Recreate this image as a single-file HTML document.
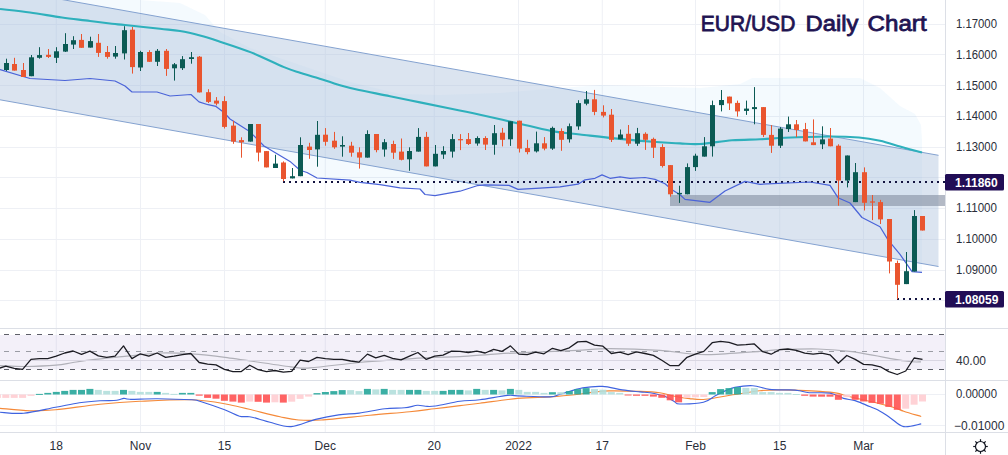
<!DOCTYPE html><html><head><meta charset="utf-8"><style>html,body{margin:0;padding:0;background:#fff;overflow:hidden}svg{display:block}text{font-family:"Liberation Sans",sans-serif}</style></head><body>
<svg width="1008" height="455" viewBox="0 0 1008 455" shape-rendering="auto">
<rect width="1008" height="455" fill="#ffffff"/>
<line x1="56.25" y1="0" x2="56.25" y2="432" stroke="#eef0f5" stroke-width="1"/>
<line x1="140.50" y1="0" x2="140.50" y2="432" stroke="#eef0f5" stroke-width="1"/>
<line x1="224.50" y1="0" x2="224.50" y2="432" stroke="#eef0f5" stroke-width="1"/>
<line x1="325.25" y1="0" x2="325.25" y2="432" stroke="#eef0f5" stroke-width="1"/>
<line x1="434.25" y1="0" x2="434.25" y2="432" stroke="#eef0f5" stroke-width="1"/>
<line x1="518.50" y1="0" x2="518.50" y2="432" stroke="#eef0f5" stroke-width="1"/>
<line x1="602.25" y1="0" x2="602.25" y2="432" stroke="#eef0f5" stroke-width="1"/>
<line x1="695.50" y1="0" x2="695.50" y2="432" stroke="#eef0f5" stroke-width="1"/>
<line x1="779.75" y1="0" x2="779.75" y2="432" stroke="#eef0f5" stroke-width="1"/>
<line x1="863.50" y1="0" x2="863.50" y2="432" stroke="#eef0f5" stroke-width="1"/>
<line x1="0" y1="24.5" x2="945" y2="24.5" stroke="#eef0f5" stroke-width="1"/>
<line x1="0" y1="54.5" x2="945" y2="54.5" stroke="#eef0f5" stroke-width="1"/>
<line x1="0" y1="85.5" x2="945" y2="85.5" stroke="#eef0f5" stroke-width="1"/>
<line x1="0" y1="116.5" x2="945" y2="116.5" stroke="#eef0f5" stroke-width="1"/>
<line x1="0" y1="147.5" x2="945" y2="147.5" stroke="#eef0f5" stroke-width="1"/>
<line x1="0" y1="177.5" x2="945" y2="177.5" stroke="#eef0f5" stroke-width="1"/>
<line x1="0" y1="208.5" x2="945" y2="208.5" stroke="#eef0f5" stroke-width="1"/>
<line x1="0" y1="239.5" x2="945" y2="239.5" stroke="#eef0f5" stroke-width="1"/>
<line x1="0" y1="270.5" x2="945" y2="270.5" stroke="#eef0f5" stroke-width="1"/>
<line x1="0" y1="300.5" x2="945" y2="300.5" stroke="#eef0f5" stroke-width="1"/>
<line x1="0" y1="394.5" x2="945" y2="394.5" stroke="#eef0f5"/>
<line x1="0" y1="425.5" x2="945" y2="425.5" stroke="#eef0f5"/>
<polygon points="0.0,-10.0 95.0,-3.0 140.0,0.0 180.0,3.0 205.0,15.0 220.0,32.0 250.0,48.0 300.0,65.0 350.0,82.0 400.0,94.0 440.0,95.0 500.0,93.0 560.0,88.0 600.0,85.0 700.0,88.0 740.0,84.0 752.0,78.0 860.0,78.0 880.0,88.0 900.0,106.0 915.0,114.0 921.0,125.0 922.0,140.0 922.0,272.4 912.0,271.6 900.0,254.4 888.0,239.9 880.0,226.7 862.0,217.5 850.0,203.0 838.0,197.7 830.0,185.3 810.0,182.0 760.0,184.3 745.0,181.4 725.0,191.0 710.0,202.3 685.0,199.4 680.0,194.7 672.0,189.8 665.0,183.8 655.0,179.4 645.0,177.5 630.0,178.3 620.0,176.9 610.0,178.3 602.0,174.9 595.0,178.3 585.0,179.8 578.0,184.2 560.0,186.8 540.0,188.2 518.0,189.4 509.0,185.4 485.0,184.8 477.0,185.7 460.0,191.2 435.0,195.6 425.0,194.5 420.0,189.0 400.0,187.9 380.0,184.6 360.0,182.4 350.0,180.2 317.0,178.0 307.0,172.5 300.0,170.2 290.0,161.4 264.0,146.0 250.0,131.8 230.0,119.0 224.0,112.5 216.0,106.4 208.0,104.7 199.0,101.9 191.0,94.5 170.0,96.0 157.0,92.0 132.0,92.0 125.0,86.0 115.0,81.0 90.0,78.5 65.0,80.5 30.0,78.5 0.0,69.5" fill="#2196f3" fill-opacity="0.05"/>
<polygon points="0,-11.5 938.5,155.3 938.5,266.5 0,99.8" fill="#a9bfdc" fill-opacity="0.42"/>
<line x1="0" y1="-11.5" x2="938.5" y2="155.3" stroke="#84a2d0" stroke-width="1"/>
<line x1="0" y1="99.8" x2="938.5" y2="266.5" stroke="#84a2d0" stroke-width="1"/>
<rect x="670" y="195" width="275" height="11" fill="#8a93a6" fill-opacity="0.65"/>
<line x1="283" y1="182" x2="945" y2="182" stroke="#131340" stroke-width="2" stroke-dasharray="2 4"/>
<line x1="897" y1="299" x2="945" y2="299" stroke="#131340" stroke-width="2" stroke-dasharray="2 4"/>
<path d="M0.0,9.0 C5.0,9.6 19.7,11.1 30.0,12.5 C40.3,13.9 52.0,16.1 62.0,17.5 C72.0,18.9 81.7,19.9 90.0,21.0 C98.3,22.1 106.2,23.1 112.0,23.8 C117.8,24.5 117.0,24.2 125.0,25.0 C133.0,25.8 150.8,27.8 160.0,28.8 C169.2,29.8 173.3,29.9 180.0,31.0 C186.7,32.1 193.7,33.8 200.0,35.5 C206.3,37.2 209.5,38.2 218.0,41.0 C226.5,43.8 240.0,48.0 251.0,52.4 C262.0,56.8 275.8,63.7 284.0,67.1 C292.2,70.5 294.7,71.0 300.0,72.7 C305.3,74.4 309.3,75.4 316.0,77.5 C322.7,79.6 332.8,83.2 340.0,85.3 C347.2,87.4 350.7,88.2 359.0,90.0 C367.3,91.8 379.8,94.1 390.0,96.2 C400.2,98.3 410.0,100.4 420.0,102.4 C430.0,104.5 440.0,106.5 450.0,108.5 C460.0,110.5 467.5,112.0 480.0,114.7 C492.5,117.5 512.5,122.2 525.0,125.0 C537.5,127.8 545.8,130.0 555.0,131.6 C564.2,133.2 569.2,133.3 580.0,134.5 C590.8,135.7 606.7,137.6 620.0,138.9 C633.3,140.2 650.0,141.6 660.0,142.3 C670.0,143.1 673.3,143.1 680.0,143.4 C686.7,143.7 691.3,144.5 700.0,144.0 C708.7,143.5 722.0,141.1 732.0,140.3 C742.0,139.5 751.2,139.7 760.0,139.3 C768.8,138.9 773.8,138.3 785.0,137.8 C796.2,137.3 814.7,136.6 827.0,136.5 C839.3,136.4 850.2,136.8 859.0,137.5 C867.8,138.2 873.2,139.3 880.0,140.8 C886.8,142.3 893.0,144.5 900.0,146.5 C907.0,148.5 918.3,151.6 922.0,152.6" fill="none" stroke="#2eb0bc" stroke-width="2.1" stroke-linejoin="round"/>
<polyline points="0.0,69.5 30.0,78.5 65.0,80.5 90.0,78.5 115.0,81.0 125.0,86.0 132.0,92.0 157.0,92.0 170.0,96.0 191.0,94.5 199.0,101.9 208.0,104.7 216.0,106.4 224.0,112.5 230.0,119.0 250.0,131.8 264.0,146.0 290.0,161.4 300.0,170.2 307.0,172.5 317.0,178.0 350.0,180.2 360.0,182.4 380.0,184.6 400.0,187.9 420.0,189.0 425.0,194.5 435.0,195.6 460.0,191.2 477.0,185.7 485.0,184.8 509.0,185.4 518.0,189.4 540.0,188.2 560.0,186.8 578.0,184.2 585.0,179.8 595.0,178.3 602.0,174.9 610.0,178.3 620.0,176.9 630.0,178.3 645.0,177.5 655.0,179.4 665.0,183.8 672.0,189.8 680.0,194.7 685.0,199.4 710.0,202.3 725.0,191.0 745.0,181.4 760.0,184.3 810.0,182.0 830.0,185.3 838.0,197.7 850.0,203.0 862.0,217.5 880.0,226.7 888.0,239.9 900.0,254.4 912.0,271.6 922.0,272.4" fill="none" stroke="#4a63d8" stroke-width="1.2" stroke-linejoin="round"/>
<line x1="6.5" y1="58.7" x2="6.5" y2="71.0" stroke="#0b5a54" stroke-width="1"/>
<rect x="4.0" y="63.0" width="5" height="7.0" fill="#0b5a54"/>
<line x1="14.5" y1="57.8" x2="14.5" y2="70.6" stroke="#e9552f" stroke-width="1"/>
<rect x="12.0" y="64.0" width="5" height="6.6" fill="#e9552f"/>
<line x1="23.5" y1="63.0" x2="23.5" y2="77.0" stroke="#e9552f" stroke-width="1"/>
<rect x="21.0" y="70.0" width="5" height="7.0" fill="#e9552f"/>
<line x1="31.5" y1="55.0" x2="31.5" y2="76.2" stroke="#0b5a54" stroke-width="1"/>
<rect x="29.0" y="57.3" width="5" height="18.9" fill="#0b5a54"/>
<line x1="39.5" y1="47.2" x2="39.5" y2="58.7" stroke="#0b5a54" stroke-width="1"/>
<rect x="37.0" y="55.1" width="5" height="2.7" fill="#0b5a54"/>
<line x1="48.5" y1="49.0" x2="48.5" y2="58.0" stroke="#e9552f" stroke-width="1"/>
<rect x="46.0" y="54.8" width="5" height="2.1" fill="#e9552f"/>
<line x1="56.5" y1="47.2" x2="56.5" y2="63.0" stroke="#0b5a54" stroke-width="1"/>
<rect x="54.0" y="51.3" width="5" height="6.5" fill="#0b5a54"/>
<line x1="65.5" y1="33.2" x2="65.5" y2="52.0" stroke="#0b5a54" stroke-width="1"/>
<rect x="63.0" y="44.0" width="5" height="7.6" fill="#0b5a54"/>
<line x1="73.5" y1="36.2" x2="73.5" y2="49.0" stroke="#0b5a54" stroke-width="1"/>
<rect x="71.0" y="40.2" width="5" height="4.4" fill="#0b5a54"/>
<line x1="81.5" y1="34.0" x2="81.5" y2="47.8" stroke="#e9552f" stroke-width="1"/>
<rect x="79.0" y="39.9" width="5" height="7.9" fill="#e9552f"/>
<line x1="90.5" y1="36.7" x2="90.5" y2="47.6" stroke="#0b5a54" stroke-width="1"/>
<rect x="88.0" y="41.1" width="5" height="6.5" fill="#0b5a54"/>
<line x1="98.5" y1="34.0" x2="98.5" y2="56.9" stroke="#e9552f" stroke-width="1"/>
<rect x="96.0" y="42.8" width="5" height="10.1" fill="#e9552f"/>
<line x1="107.5" y1="46.0" x2="107.5" y2="58.7" stroke="#e9552f" stroke-width="1"/>
<rect x="105.0" y="52.0" width="5" height="4.9" fill="#e9552f"/>
<line x1="115.5" y1="46.0" x2="115.5" y2="58.7" stroke="#0b5a54" stroke-width="1"/>
<rect x="113.0" y="53.0" width="5" height="3.6" fill="#0b5a54"/>
<line x1="124.5" y1="26.2" x2="124.5" y2="59.5" stroke="#0b5a54" stroke-width="1"/>
<rect x="122.0" y="30.2" width="5" height="23.2" fill="#0b5a54"/>
<line x1="132.5" y1="27.0" x2="132.5" y2="73.6" stroke="#e9552f" stroke-width="1"/>
<rect x="130.0" y="29.7" width="5" height="37.4" fill="#e9552f"/>
<line x1="140.5" y1="50.8" x2="140.5" y2="71.0" stroke="#0b5a54" stroke-width="1"/>
<rect x="138.0" y="52.0" width="5" height="15.5" fill="#0b5a54"/>
<line x1="149.5" y1="50.2" x2="149.5" y2="62.0" stroke="#e9552f" stroke-width="1"/>
<rect x="147.0" y="52.0" width="5" height="9.8" fill="#e9552f"/>
<line x1="157.5" y1="49.0" x2="157.5" y2="66.0" stroke="#0b5a54" stroke-width="1"/>
<rect x="155.0" y="50.8" width="5" height="11.0" fill="#0b5a54"/>
<line x1="166.5" y1="49.0" x2="166.5" y2="75.9" stroke="#e9552f" stroke-width="1"/>
<rect x="164.0" y="50.8" width="5" height="18.1" fill="#e9552f"/>
<line x1="174.5" y1="63.0" x2="174.5" y2="80.6" stroke="#0b5a54" stroke-width="1"/>
<rect x="172.0" y="64.3" width="5" height="4.0" fill="#0b5a54"/>
<line x1="182.5" y1="56.1" x2="182.5" y2="70.0" stroke="#0b5a54" stroke-width="1"/>
<rect x="180.0" y="59.2" width="5" height="9.0" fill="#0b5a54"/>
<line x1="191.5" y1="52.0" x2="191.5" y2="63.7" stroke="#0b5a54" stroke-width="1"/>
<rect x="189.0" y="57.2" width="5" height="1.8" fill="#0b5a54"/>
<line x1="199.5" y1="56.0" x2="199.5" y2="92.5" stroke="#e9552f" stroke-width="1"/>
<rect x="197.0" y="56.7" width="5" height="35.7" fill="#e9552f"/>
<line x1="208.5" y1="89.2" x2="208.5" y2="103.0" stroke="#e9552f" stroke-width="1"/>
<rect x="206.0" y="92.2" width="5" height="9.7" fill="#e9552f"/>
<line x1="216.5" y1="97.1" x2="216.5" y2="105.4" stroke="#e9552f" stroke-width="1"/>
<rect x="214.0" y="100.6" width="5" height="3.0" fill="#e9552f"/>
<line x1="224.5" y1="96.2" x2="224.5" y2="128.5" stroke="#e9552f" stroke-width="1"/>
<rect x="222.0" y="101.1" width="5" height="25.8" fill="#e9552f"/>
<line x1="233.5" y1="120.8" x2="233.5" y2="143.8" stroke="#e9552f" stroke-width="1"/>
<rect x="231.0" y="125.6" width="5" height="16.0" fill="#e9552f"/>
<line x1="241.5" y1="137.3" x2="241.5" y2="157.7" stroke="#e9552f" stroke-width="1"/>
<rect x="239.0" y="140.1" width="5" height="2.2" fill="#e9552f"/>
<line x1="250.5" y1="124.0" x2="250.5" y2="141.6" stroke="#0b5a54" stroke-width="1"/>
<rect x="248.0" y="124.0" width="5" height="17.6" fill="#0b5a54"/>
<line x1="258.5" y1="124.0" x2="258.5" y2="161.4" stroke="#e9552f" stroke-width="1"/>
<rect x="256.0" y="124.0" width="5" height="28.6" fill="#e9552f"/>
<line x1="266.5" y1="151.0" x2="266.5" y2="167.4" stroke="#e9552f" stroke-width="1"/>
<rect x="264.0" y="151.1" width="5" height="16.3" fill="#e9552f"/>
<line x1="275.5" y1="154.8" x2="275.5" y2="168.0" stroke="#0b5a54" stroke-width="1"/>
<rect x="273.0" y="163.6" width="5" height="4.4" fill="#0b5a54"/>
<line x1="283.5" y1="161.4" x2="283.5" y2="181.2" stroke="#e9552f" stroke-width="1"/>
<rect x="281.0" y="162.5" width="5" height="16.5" fill="#e9552f"/>
<line x1="292.5" y1="168.0" x2="292.5" y2="178.4" stroke="#0b5a54" stroke-width="1"/>
<rect x="290.0" y="176.2" width="5" height="2.2" fill="#0b5a54"/>
<line x1="300.5" y1="137.3" x2="300.5" y2="176.2" stroke="#0b5a54" stroke-width="1"/>
<rect x="298.0" y="145.0" width="5" height="31.2" fill="#0b5a54"/>
<line x1="309.5" y1="142.8" x2="309.5" y2="158.8" stroke="#e9552f" stroke-width="1"/>
<rect x="307.0" y="146.6" width="5" height="3.4" fill="#e9552f"/>
<line x1="317.5" y1="121.0" x2="317.5" y2="166.7" stroke="#0b5a54" stroke-width="1"/>
<rect x="315.0" y="134.8" width="5" height="14.6" fill="#0b5a54"/>
<line x1="325.5" y1="128.1" x2="325.5" y2="145.7" stroke="#e9552f" stroke-width="1"/>
<rect x="323.0" y="134.7" width="5" height="7.1" fill="#e9552f"/>
<line x1="334.5" y1="131.9" x2="334.5" y2="148.8" stroke="#e9552f" stroke-width="1"/>
<rect x="332.0" y="140.7" width="5" height="6.6" fill="#e9552f"/>
<line x1="342.5" y1="136.3" x2="342.5" y2="156.7" stroke="#0b5a54" stroke-width="1"/>
<rect x="340.0" y="145.0" width="5" height="1.6" fill="#0b5a54"/>
<line x1="351.5" y1="141.8" x2="351.5" y2="156.7" stroke="#e9552f" stroke-width="1"/>
<rect x="349.0" y="145.7" width="5" height="7.0" fill="#e9552f"/>
<line x1="359.5" y1="147.3" x2="359.5" y2="168.6" stroke="#e9552f" stroke-width="1"/>
<rect x="357.0" y="152.3" width="5" height="5.3" fill="#e9552f"/>
<line x1="367.5" y1="130.3" x2="367.5" y2="157.6" stroke="#0b5a54" stroke-width="1"/>
<rect x="365.0" y="134.0" width="5" height="23.6" fill="#0b5a54"/>
<line x1="376.5" y1="134.0" x2="376.5" y2="152.3" stroke="#e9552f" stroke-width="1"/>
<rect x="374.0" y="134.0" width="5" height="16.1" fill="#e9552f"/>
<line x1="384.5" y1="139.1" x2="384.5" y2="156.7" stroke="#0b5a54" stroke-width="1"/>
<rect x="382.0" y="142.2" width="5" height="7.3" fill="#0b5a54"/>
<line x1="393.5" y1="140.7" x2="393.5" y2="158.9" stroke="#e9552f" stroke-width="1"/>
<rect x="391.0" y="144.0" width="5" height="8.7" fill="#e9552f"/>
<line x1="401.5" y1="138.5" x2="401.5" y2="160.4" stroke="#e9552f" stroke-width="1"/>
<rect x="399.0" y="151.6" width="5" height="8.2" fill="#e9552f"/>
<line x1="409.5" y1="147.3" x2="409.5" y2="170.8" stroke="#0b5a54" stroke-width="1"/>
<rect x="407.0" y="151.0" width="5" height="8.3" fill="#0b5a54"/>
<line x1="418.5" y1="128.1" x2="418.5" y2="151.6" stroke="#0b5a54" stroke-width="1"/>
<rect x="416.0" y="136.9" width="5" height="14.7" fill="#0b5a54"/>
<line x1="426.5" y1="131.9" x2="426.5" y2="166.4" stroke="#e9552f" stroke-width="1"/>
<rect x="424.0" y="136.9" width="5" height="29.5" fill="#e9552f"/>
<line x1="435.5" y1="145.0" x2="435.5" y2="166.4" stroke="#0b5a54" stroke-width="1"/>
<rect x="433.0" y="153.8" width="5" height="12.6" fill="#0b5a54"/>
<line x1="443.5" y1="146.2" x2="443.5" y2="158.9" stroke="#0b5a54" stroke-width="1"/>
<rect x="441.0" y="151.0" width="5" height="3.5" fill="#0b5a54"/>
<line x1="452.5" y1="134.1" x2="452.5" y2="157.6" stroke="#0b5a54" stroke-width="1"/>
<rect x="450.0" y="139.1" width="5" height="12.5" fill="#0b5a54"/>
<line x1="460.5" y1="134.1" x2="460.5" y2="150.1" stroke="#e9552f" stroke-width="1"/>
<rect x="458.0" y="139.1" width="5" height="1.2" fill="#e9552f"/>
<line x1="468.5" y1="133.0" x2="468.5" y2="145.0" stroke="#e9552f" stroke-width="1"/>
<rect x="466.0" y="139.1" width="5" height="4.9" fill="#e9552f"/>
<line x1="477.5" y1="136.3" x2="477.5" y2="145.7" stroke="#0b5a54" stroke-width="1"/>
<rect x="475.0" y="138.0" width="5" height="5.5" fill="#0b5a54"/>
<line x1="485.5" y1="136.2" x2="485.5" y2="150.0" stroke="#e9552f" stroke-width="1"/>
<rect x="483.0" y="138.0" width="5" height="6.6" fill="#e9552f"/>
<line x1="494.5" y1="125.0" x2="494.5" y2="154.7" stroke="#0b5a54" stroke-width="1"/>
<rect x="492.0" y="133.2" width="5" height="11.6" fill="#0b5a54"/>
<line x1="502.5" y1="127.9" x2="502.5" y2="146.4" stroke="#e9552f" stroke-width="1"/>
<rect x="500.0" y="132.7" width="5" height="7.1" fill="#e9552f"/>
<line x1="510.5" y1="121.3" x2="510.5" y2="145.9" stroke="#0b5a54" stroke-width="1"/>
<rect x="508.0" y="121.3" width="5" height="18.0" fill="#0b5a54"/>
<line x1="519.5" y1="120.7" x2="519.5" y2="152.5" stroke="#e9552f" stroke-width="1"/>
<rect x="517.0" y="120.7" width="5" height="27.9" fill="#e9552f"/>
<line x1="527.5" y1="139.8" x2="527.5" y2="154.3" stroke="#e9552f" stroke-width="1"/>
<rect x="525.0" y="148.1" width="5" height="4.0" fill="#e9552f"/>
<line x1="536.5" y1="131.6" x2="536.5" y2="152.5" stroke="#0b5a54" stroke-width="1"/>
<rect x="534.0" y="143.3" width="5" height="8.1" fill="#0b5a54"/>
<line x1="544.5" y1="137.1" x2="544.5" y2="150.3" stroke="#e9552f" stroke-width="1"/>
<rect x="542.0" y="143.3" width="5" height="5.3" fill="#e9552f"/>
<line x1="552.5" y1="126.6" x2="552.5" y2="149.9" stroke="#0b5a54" stroke-width="1"/>
<rect x="550.0" y="127.9" width="5" height="20.7" fill="#0b5a54"/>
<line x1="561.5" y1="128.4" x2="561.5" y2="150.8" stroke="#e9552f" stroke-width="1"/>
<rect x="559.0" y="131.0" width="5" height="8.8" fill="#e9552f"/>
<line x1="569.5" y1="123.5" x2="569.5" y2="142.6" stroke="#0b5a54" stroke-width="1"/>
<rect x="567.0" y="126.2" width="5" height="13.1" fill="#0b5a54"/>
<line x1="578.5" y1="100.2" x2="578.5" y2="129.8" stroke="#0b5a54" stroke-width="1"/>
<rect x="576.0" y="103.1" width="5" height="23.3" fill="#0b5a54"/>
<line x1="586.5" y1="91.0" x2="586.5" y2="105.3" stroke="#0b5a54" stroke-width="1"/>
<rect x="584.0" y="99.3" width="5" height="4.4" fill="#0b5a54"/>
<line x1="594.5" y1="89.9" x2="594.5" y2="115.2" stroke="#e9552f" stroke-width="1"/>
<rect x="592.0" y="99.3" width="5" height="12.6" fill="#e9552f"/>
<line x1="603.5" y1="105.3" x2="603.5" y2="117.4" stroke="#e9552f" stroke-width="1"/>
<rect x="601.0" y="111.9" width="5" height="3.7" fill="#e9552f"/>
<line x1="611.5" y1="109.0" x2="611.5" y2="142.0" stroke="#e9552f" stroke-width="1"/>
<rect x="609.0" y="114.7" width="5" height="25.1" fill="#e9552f"/>
<line x1="620.5" y1="129.5" x2="620.5" y2="139.3" stroke="#0b5a54" stroke-width="1"/>
<rect x="618.0" y="134.5" width="5" height="4.8" fill="#0b5a54"/>
<line x1="628.5" y1="125.0" x2="628.5" y2="145.9" stroke="#e9552f" stroke-width="1"/>
<rect x="626.0" y="133.8" width="5" height="9.9" fill="#e9552f"/>
<line x1="637.5" y1="127.9" x2="637.5" y2="145.9" stroke="#0b5a54" stroke-width="1"/>
<rect x="635.0" y="133.2" width="5" height="10.5" fill="#0b5a54"/>
<line x1="645.5" y1="132.3" x2="645.5" y2="149.9" stroke="#e9552f" stroke-width="1"/>
<rect x="643.0" y="133.8" width="5" height="6.0" fill="#e9552f"/>
<line x1="653.5" y1="137.6" x2="653.5" y2="158.0" stroke="#e9552f" stroke-width="1"/>
<rect x="651.0" y="138.9" width="5" height="8.8" fill="#e9552f"/>
<line x1="662.5" y1="144.2" x2="662.5" y2="167.5" stroke="#e9552f" stroke-width="1"/>
<rect x="660.0" y="147.0" width="5" height="19.0" fill="#e9552f"/>
<line x1="670.5" y1="165.1" x2="670.5" y2="196.6" stroke="#e9552f" stroke-width="1"/>
<rect x="668.0" y="165.1" width="5" height="29.2" fill="#e9552f"/>
<line x1="679.5" y1="185.7" x2="679.5" y2="202.9" stroke="#0b5a54" stroke-width="1"/>
<rect x="677.0" y="192.9" width="5" height="1.4" fill="#0b5a54"/>
<line x1="687.5" y1="163.4" x2="687.5" y2="194.3" stroke="#0b5a54" stroke-width="1"/>
<rect x="685.0" y="167.1" width="5" height="27.2" fill="#0b5a54"/>
<line x1="695.5" y1="153.7" x2="695.5" y2="170.9" stroke="#0b5a54" stroke-width="1"/>
<rect x="693.0" y="155.7" width="5" height="11.4" fill="#0b5a54"/>
<line x1="704.5" y1="137.1" x2="704.5" y2="156.6" stroke="#0b5a54" stroke-width="1"/>
<rect x="702.0" y="146.3" width="5" height="10.3" fill="#0b5a54"/>
<line x1="712.5" y1="100.6" x2="712.5" y2="156.6" stroke="#0b5a54" stroke-width="1"/>
<rect x="710.0" y="105.1" width="5" height="41.2" fill="#0b5a54"/>
<line x1="721.5" y1="90.0" x2="721.5" y2="111.4" stroke="#0b5a54" stroke-width="1"/>
<rect x="719.0" y="100.0" width="5" height="5.1" fill="#0b5a54"/>
<line x1="729.5" y1="96.6" x2="729.5" y2="110.0" stroke="#e9552f" stroke-width="1"/>
<rect x="727.0" y="96.6" width="5" height="6.8" fill="#e9552f"/>
<line x1="737.5" y1="100.6" x2="737.5" y2="116.6" stroke="#e9552f" stroke-width="1"/>
<rect x="735.0" y="102.9" width="5" height="8.5" fill="#e9552f"/>
<line x1="746.5" y1="100.6" x2="746.5" y2="114.9" stroke="#0b5a54" stroke-width="1"/>
<rect x="744.0" y="108.6" width="5" height="2.3" fill="#0b5a54"/>
<line x1="754.5" y1="87.1" x2="754.5" y2="124.3" stroke="#0b5a54" stroke-width="1"/>
<rect x="752.0" y="107.1" width="5" height="2.0" fill="#0b5a54"/>
<line x1="763.5" y1="107.1" x2="763.5" y2="137.1" stroke="#e9552f" stroke-width="1"/>
<rect x="761.0" y="107.1" width="5" height="27.8" fill="#e9552f"/>
<line x1="771.5" y1="125.1" x2="771.5" y2="152.9" stroke="#e9552f" stroke-width="1"/>
<rect x="769.0" y="134.9" width="5" height="10.8" fill="#e9552f"/>
<line x1="780.5" y1="127.1" x2="780.5" y2="148.0" stroke="#0b5a54" stroke-width="1"/>
<rect x="778.0" y="128.6" width="5" height="17.1" fill="#0b5a54"/>
<line x1="788.5" y1="116.6" x2="788.5" y2="132.0" stroke="#0b5a54" stroke-width="1"/>
<rect x="786.0" y="124.3" width="5" height="4.8" fill="#0b5a54"/>
<line x1="796.5" y1="120.0" x2="796.5" y2="137.1" stroke="#e9552f" stroke-width="1"/>
<rect x="794.0" y="124.3" width="5" height="5.7" fill="#e9552f"/>
<line x1="805.5" y1="122.9" x2="805.5" y2="141.4" stroke="#e9552f" stroke-width="1"/>
<rect x="803.0" y="129.1" width="5" height="12.3" fill="#e9552f"/>
<line x1="813.5" y1="119.4" x2="813.5" y2="145.1" stroke="#e9552f" stroke-width="1"/>
<rect x="811.0" y="142.3" width="5" height="2.8" fill="#e9552f"/>
<line x1="822.5" y1="126.3" x2="822.5" y2="149.1" stroke="#0b5a54" stroke-width="1"/>
<rect x="820.0" y="139.4" width="5" height="4.9" fill="#0b5a54"/>
<line x1="830.5" y1="128.0" x2="830.5" y2="146.3" stroke="#e9552f" stroke-width="1"/>
<rect x="828.0" y="138.6" width="5" height="7.7" fill="#e9552f"/>
<line x1="838.5" y1="144.3" x2="838.5" y2="205.7" stroke="#e9552f" stroke-width="1"/>
<rect x="836.0" y="145.7" width="5" height="34.8" fill="#e9552f"/>
<line x1="847.5" y1="155.5" x2="847.5" y2="187.4" stroke="#0b5a54" stroke-width="1"/>
<rect x="845.0" y="155.5" width="5" height="25.0" fill="#0b5a54"/>
<line x1="855.5" y1="163.0" x2="855.5" y2="202.1" stroke="#0b5a54" stroke-width="1"/>
<rect x="853.0" y="172.2" width="5" height="29.9" fill="#0b5a54"/>
<line x1="864.5" y1="167.4" x2="864.5" y2="210.5" stroke="#e9552f" stroke-width="1"/>
<rect x="862.0" y="172.2" width="5" height="30.6" fill="#e9552f"/>
<line x1="872.5" y1="195.0" x2="872.5" y2="220.1" stroke="#e9552f" stroke-width="1"/>
<rect x="870.0" y="201.4" width="5" height="1.2" fill="#e9552f"/>
<line x1="880.5" y1="199.9" x2="880.5" y2="224.0" stroke="#e9552f" stroke-width="1"/>
<rect x="878.0" y="202.1" width="5" height="17.3" fill="#e9552f"/>
<line x1="889.5" y1="219.0" x2="889.5" y2="273.4" stroke="#e9552f" stroke-width="1"/>
<rect x="887.0" y="219.0" width="5" height="42.5" fill="#e9552f"/>
<line x1="897.5" y1="260.6" x2="897.5" y2="299.2" stroke="#e9552f" stroke-width="1"/>
<rect x="895.0" y="263.0" width="5" height="21.8" fill="#e9552f"/>
<line x1="906.5" y1="252.0" x2="906.5" y2="284.1" stroke="#0b5a54" stroke-width="1"/>
<rect x="904.0" y="271.2" width="5" height="12.9" fill="#0b5a54"/>
<line x1="914.5" y1="210.1" x2="914.5" y2="271.5" stroke="#0b5a54" stroke-width="1"/>
<rect x="912.0" y="216.0" width="5" height="55.5" fill="#0b5a54"/>
<line x1="922.5" y1="216.0" x2="922.5" y2="230.5" stroke="#e9552f" stroke-width="1"/>
<rect x="920.0" y="216.0" width="5" height="14.5" fill="#e9552f"/>
<text x="700.8" y="31" font-size="22" textLength="94.5" lengthAdjust="spacingAndGlyphs" stroke="#1f1452" stroke-width="0.8" fill="#1f1452">EUR/USD</text>
<text x="805.6" y="31" font-size="22" textLength="52.8" lengthAdjust="spacingAndGlyphs" stroke="#1f1452" stroke-width="0.8" fill="#1f1452">Daily</text>
<text x="867.6" y="31" font-size="22" textLength="59.0" lengthAdjust="spacingAndGlyphs" stroke="#1f1452" stroke-width="0.8" fill="#1f1452">Chart</text>
<rect x="0" y="335" width="945" height="34.5" fill="#7e57c2" fill-opacity="0.09"/>
<line x1="0" y1="334.5" x2="945" y2="334.5" stroke="#5d5f68" stroke-width="1" stroke-dasharray="5 6" stroke-dashoffset="7"/>
<line x1="0" y1="351.5" x2="945" y2="351.5" stroke="#9a9ca4" stroke-width="1" stroke-dasharray="5 6" stroke-dashoffset="7"/>
<line x1="0" y1="369.5" x2="945" y2="369.5" stroke="#5d5f68" stroke-width="1" stroke-dasharray="5 6" stroke-dashoffset="7"/>
<path d="M0.0,365.7 C4.2,365.8 15.7,366.6 25.0,366.5 C34.3,366.4 48.0,365.9 56.0,365.2 C64.0,364.5 66.5,363.5 73.0,362.5 C79.5,361.5 86.0,360.4 95.0,359.4 C104.0,358.3 116.2,357.3 127.0,356.2 C137.8,355.1 149.3,353.4 160.0,353.0 C170.7,352.6 180.2,353.1 191.0,353.8 C201.8,354.5 208.3,355.1 225.0,357.3 C241.7,359.5 276.8,365.1 291.0,366.8 C305.2,368.6 298.7,368.5 310.0,367.8 C321.3,367.1 344.0,363.9 359.0,362.5 C374.0,361.1 387.7,360.3 400.0,359.4 C412.3,358.5 423.0,357.8 433.0,357.3 C443.0,356.9 449.2,357.3 460.0,356.7 C470.8,356.1 485.7,354.6 498.0,353.8 C510.3,353.1 520.8,352.8 534.0,352.2 C547.2,351.6 564.3,350.9 577.0,350.3 C589.7,349.7 596.2,348.7 610.0,348.7 C623.8,348.7 647.2,349.5 660.0,350.3 C672.8,351.1 678.5,352.8 687.0,353.5 C695.5,354.2 698.8,355.0 711.0,354.6 C723.2,354.2 748.3,352.2 760.0,351.4 C771.7,350.6 771.3,350.1 781.0,349.7 C790.7,349.3 806.2,348.7 818.0,349.0 C829.8,349.3 837.5,349.7 852.0,351.7 C866.5,353.7 893.5,359.3 905.0,361.0 C916.5,362.7 918.3,361.8 921.0,361.9" fill="none" stroke="#b0b0b8" stroke-width="1.2"/>
<line x1="0" y1="360.5" x2="945" y2="360.5" stroke="#d9d6e2" stroke-width="1"/>
<polyline points="-2.6,368.8 5.8,366.2 14.2,368.4 22.6,369.4 31.0,359.4 39.4,358.6 47.8,358.6 56.2,356.2 64.7,353.0 73.1,351.0 81.5,354.3 89.9,351.1 98.3,355.9 106.7,357.3 115.1,356.2 123.5,345.9 131.9,358.6 140.3,353.8 148.8,356.2 157.2,353.0 165.6,357.3 174.0,356.2 182.4,354.6 190.8,353.5 199.2,362.5 207.6,364.1 216.0,364.9 224.4,369.4 232.9,371.6 241.3,371.6 249.7,365.2 258.1,369.7 266.5,371.6 274.9,370.5 283.3,372.1 291.7,371.3 300.1,360.2 308.6,361.5 317.0,357.3 325.4,358.6 333.8,359.4 342.2,359.4 350.6,361.0 359.0,362.1 367.4,354.1 375.8,357.8 384.2,355.4 392.6,358.3 401.1,359.8 409.5,356.2 417.9,352.5 426.3,359.4 434.7,356.2 443.1,355.1 451.5,351.1 459.9,351.4 468.3,352.5 476.8,351.1 485.2,353.0 493.6,349.4 502.0,351.4 510.4,345.9 518.8,354.1 527.2,354.6 535.6,352.2 544.0,353.8 552.4,348.3 560.9,350.6 569.3,347.8 577.7,341.9 586.1,341.4 594.5,345.1 602.9,346.2 611.3,353.5 619.7,352.2 628.1,354.6 636.5,351.9 645.0,353.5 653.4,355.4 661.8,360.2 670.2,365.7 678.6,365.7 687.0,357.3 695.4,354.1 703.8,351.4 712.2,342.7 720.6,341.4 729.0,342.4 737.5,345.1 745.9,344.6 754.3,343.9 762.7,351.7 771.1,354.2 779.5,349.7 787.9,349.0 796.3,350.3 804.7,353.2 813.1,354.2 821.6,353.2 830.0,354.8 838.4,363.3 846.8,355.5 855.2,359.4 863.6,364.4 872.0,364.8 880.4,366.8 888.8,371.6 897.2,374.5 905.7,371.0 914.1,358.0 922.5,359.4" fill="none" stroke="#1b1b22" stroke-width="1.3" stroke-linejoin="round"/>
<path d="M0.0,408.3 C5.0,408.7 20.5,410.6 29.8,410.8 C39.1,411.1 43.9,410.9 55.6,409.8 C67.3,408.7 86.0,405.7 100.0,404.3 C114.0,402.9 124.3,402.1 139.6,401.3 C154.9,400.6 177.7,399.4 191.9,399.8 C206.1,400.2 209.9,401.0 224.6,403.8 C239.3,406.6 267.7,414.0 280.0,416.7 C292.3,419.4 291.7,419.4 298.6,420.0 C305.5,420.6 309.5,420.8 321.4,420.0 C333.3,419.2 355.3,416.6 370.0,415.2 C384.7,413.8 398.9,412.8 409.6,411.7 C420.3,410.6 426.0,409.8 434.4,408.8 C442.8,407.8 452.4,406.5 460.0,405.6 C467.6,404.7 470.2,404.5 479.8,403.3 C489.4,402.1 505.8,399.5 517.5,398.4 C529.2,397.3 540.5,397.5 550.0,396.9 C559.5,396.3 567.8,395.6 574.7,394.8 C581.6,394.1 585.8,393.0 591.6,392.4 C597.4,391.8 601.3,391.1 609.4,390.9 C617.5,390.7 631.6,391.1 640.0,391.4 C648.4,391.7 654.0,391.9 659.8,392.7 C665.6,393.5 669.6,395.3 674.6,396.3 C679.6,397.3 684.4,398.1 689.5,398.6 C694.6,399.1 698.6,399.9 705.4,399.3 C712.1,398.8 724.3,396.2 730.0,395.3 C735.7,394.4 734.8,394.6 739.8,393.8 C744.8,393.0 753.1,391.4 759.7,390.7 C766.3,390.0 772.9,389.9 779.5,389.9 C786.1,389.8 792.6,390.1 799.4,390.4 C806.1,390.6 813.8,390.9 820.0,391.4 C826.2,391.8 831.8,392.2 836.8,393.1 C841.8,394.0 841.3,394.5 850.2,396.7 C859.1,398.9 881.5,404.1 890.4,406.5 C899.3,408.9 898.6,409.5 903.7,411.2 C908.8,412.9 918.3,415.6 921.2,416.5" fill="none" stroke="#f58a3a" stroke-width="1.15"/>
<path d="M0.0,412.2 C4.0,412.4 14.5,414.0 23.8,413.2 C33.1,412.4 46.3,409.0 55.6,407.3 C64.9,405.6 72.0,403.9 79.4,402.8 C86.8,401.7 93.8,401.2 100.0,400.8 C106.2,400.4 112.8,400.7 116.8,400.3 C120.8,399.9 121.6,398.6 123.7,398.4 C125.8,398.2 124.1,399.2 129.7,399.3 C135.3,399.4 147.1,398.7 157.5,398.8 C167.9,398.9 184.8,399.4 191.9,399.8 C199.0,400.2 194.4,399.6 199.8,401.3 C205.2,403.0 218.0,407.3 224.6,409.8 C231.2,412.3 235.4,415.1 239.5,416.2 C243.6,417.3 246.1,416.2 249.4,416.7 C252.7,417.2 256.0,418.3 259.4,419.2 C262.8,420.1 264.7,421.1 270.0,422.3 C275.3,423.5 283.5,427.1 291.1,426.6 C298.7,426.1 307.8,421.3 315.7,419.4 C323.6,417.4 331.4,415.9 338.6,414.9 C345.8,413.8 351.4,414.1 359.1,413.1 C366.8,412.1 377.2,409.7 384.8,408.8 C392.4,407.9 399.2,408.4 404.6,407.8 C410.1,407.2 414.0,405.6 417.5,405.3 C421.0,405.1 422.5,406.2 425.5,406.3 C428.5,406.4 429.6,406.8 435.4,406.0 C441.1,405.2 452.6,402.3 460.0,401.3 C467.4,400.3 471.9,400.8 479.8,399.8 C487.7,398.8 501.2,396.0 507.5,395.4 C513.8,394.8 510.4,395.6 517.5,395.9 C524.6,396.1 543.0,397.2 550.0,396.9 C557.0,396.6 554.3,395.8 559.8,394.3 C565.2,392.8 575.6,389.2 582.7,387.9 C589.8,386.6 595.9,386.1 602.5,386.4 C609.1,386.7 616.0,389.0 622.3,389.9 C628.5,390.8 635.4,391.4 640.0,391.9 C644.6,392.4 645.7,392.0 649.8,392.7 C653.9,393.4 660.6,394.8 664.7,396.3 C668.8,397.8 672.1,400.5 674.6,401.8 C677.1,403.1 674.8,403.9 679.6,404.0 C684.4,404.1 697.5,403.7 703.4,402.3 C709.3,400.9 711.7,397.7 715.3,395.8 C718.9,393.9 721.9,392.3 725.2,390.9 C728.5,389.5 730.3,388.3 734.9,387.4 C739.5,386.5 746.9,385.4 752.7,385.7 C758.5,386.0 763.5,388.7 769.6,389.4 C775.7,390.1 784.4,389.7 789.4,389.9 C794.4,390.1 796.1,390.2 799.4,390.7 C802.7,391.2 804.2,392.3 809.3,392.7 C814.4,393.1 824.3,392.2 830.0,393.1 C835.7,394.1 839.5,397.2 843.5,398.4 C847.5,399.6 850.4,399.3 854.2,400.4 C858.0,401.5 862.0,403.4 866.2,405.1 C870.4,406.9 875.6,408.8 879.6,410.9 C883.6,413.0 886.4,415.3 890.4,417.9 C894.4,420.5 898.6,425.6 903.7,426.6 C908.8,427.6 918.3,424.3 921.2,423.9" fill="none" stroke="#3f63e0" stroke-width="1.15"/>
<rect x="-6.1" y="394.5" width="7" height="3.4" fill="#ffcdd2" fill-opacity="0.9"/>
<rect x="2.3" y="394.5" width="7" height="3.4" fill="#ffcdd2" fill-opacity="0.9"/>
<rect x="10.7" y="394.5" width="7" height="3.4" fill="#ffcdd2" fill-opacity="0.9"/>
<rect x="19.1" y="394.5" width="7" height="3.4" fill="#ffcdd2" fill-opacity="0.9"/>
<rect x="27.5" y="394.5" width="7" height="1.4" fill="#ffcdd2" fill-opacity="0.9"/>
<rect x="35.9" y="393.9" width="7" height="1.0" fill="#26a69a" fill-opacity="0.9"/>
<rect x="44.3" y="392.9" width="7" height="1.6" fill="#26a69a" fill-opacity="0.9"/>
<rect x="52.8" y="391.9" width="7" height="2.6" fill="#26a69a" fill-opacity="0.9"/>
<rect x="61.2" y="390.9" width="7" height="3.6" fill="#26a69a" fill-opacity="0.9"/>
<rect x="69.6" y="389.9" width="7" height="4.6" fill="#26a69a" fill-opacity="0.9"/>
<rect x="78.0" y="389.9" width="7" height="4.6" fill="#26a69a" fill-opacity="0.9"/>
<rect x="86.4" y="388.9" width="7" height="5.6" fill="#26a69a" fill-opacity="0.9"/>
<rect x="94.8" y="389.9" width="7" height="4.6" fill="#b2dfdb" fill-opacity="0.9"/>
<rect x="103.2" y="390.9" width="7" height="3.6" fill="#b2dfdb" fill-opacity="0.9"/>
<rect x="111.6" y="390.9" width="7" height="3.6" fill="#b2dfdb" fill-opacity="0.9"/>
<rect x="120.0" y="389.9" width="7" height="4.6" fill="#26a69a" fill-opacity="0.9"/>
<rect x="128.4" y="390.9" width="7" height="3.6" fill="#b2dfdb" fill-opacity="0.9"/>
<rect x="136.8" y="391.9" width="7" height="2.6" fill="#b2dfdb" fill-opacity="0.9"/>
<rect x="145.3" y="391.9" width="7" height="2.6" fill="#b2dfdb" fill-opacity="0.9"/>
<rect x="153.7" y="391.9" width="7" height="2.6" fill="#26a69a" fill-opacity="0.9"/>
<rect x="162.1" y="392.9" width="7" height="1.6" fill="#b2dfdb" fill-opacity="0.9"/>
<rect x="170.5" y="393.9" width="7" height="1.0" fill="#b2dfdb" fill-opacity="0.9"/>
<rect x="178.9" y="392.9" width="7" height="1.6" fill="#26a69a" fill-opacity="0.9"/>
<rect x="187.3" y="392.9" width="7" height="1.6" fill="#26a69a" fill-opacity="0.9"/>
<rect x="195.7" y="394.5" width="7" height="1.2" fill="#ff5252" fill-opacity="0.9"/>
<rect x="204.1" y="394.5" width="7" height="3.4" fill="#ff5252" fill-opacity="0.9"/>
<rect x="212.5" y="394.5" width="7" height="4.2" fill="#ff5252" fill-opacity="0.9"/>
<rect x="220.9" y="394.5" width="7" height="6.3" fill="#ff5252" fill-opacity="0.9"/>
<rect x="229.4" y="394.5" width="7" height="7.1" fill="#ff5252" fill-opacity="0.9"/>
<rect x="237.8" y="394.5" width="7" height="8.1" fill="#ff5252" fill-opacity="0.9"/>
<rect x="246.2" y="394.5" width="7" height="7.1" fill="#ffcdd2" fill-opacity="0.9"/>
<rect x="254.6" y="394.5" width="7" height="7.3" fill="#ff5252" fill-opacity="0.9"/>
<rect x="263.0" y="394.5" width="7" height="8.1" fill="#ff5252" fill-opacity="0.9"/>
<rect x="271.4" y="394.5" width="7" height="7.8" fill="#ffcdd2" fill-opacity="0.9"/>
<rect x="279.8" y="394.5" width="7" height="8.1" fill="#ff5252" fill-opacity="0.9"/>
<rect x="288.2" y="394.5" width="7" height="7.2" fill="#ffcdd2" fill-opacity="0.9"/>
<rect x="296.6" y="394.5" width="7" height="4.4" fill="#ffcdd2" fill-opacity="0.9"/>
<rect x="305.1" y="394.5" width="7" height="2.1" fill="#ffcdd2" fill-opacity="0.9"/>
<rect x="313.5" y="393.1" width="7" height="1.4" fill="#26a69a" fill-opacity="0.9"/>
<rect x="321.9" y="392.0" width="7" height="2.5" fill="#26a69a" fill-opacity="0.9"/>
<rect x="330.3" y="391.1" width="7" height="3.4" fill="#26a69a" fill-opacity="0.9"/>
<rect x="338.7" y="390.1" width="7" height="4.4" fill="#26a69a" fill-opacity="0.9"/>
<rect x="347.1" y="390.1" width="7" height="4.4" fill="#b2dfdb" fill-opacity="0.9"/>
<rect x="355.5" y="391.1" width="7" height="3.4" fill="#b2dfdb" fill-opacity="0.9"/>
<rect x="363.9" y="388.9" width="7" height="5.6" fill="#26a69a" fill-opacity="0.9"/>
<rect x="372.3" y="389.4" width="7" height="5.1" fill="#b2dfdb" fill-opacity="0.9"/>
<rect x="380.7" y="388.9" width="7" height="5.6" fill="#26a69a" fill-opacity="0.9"/>
<rect x="389.1" y="389.9" width="7" height="4.6" fill="#b2dfdb" fill-opacity="0.9"/>
<rect x="397.6" y="389.9" width="7" height="4.6" fill="#b2dfdb" fill-opacity="0.9"/>
<rect x="406.0" y="389.9" width="7" height="4.6" fill="#26a69a" fill-opacity="0.9"/>
<rect x="414.4" y="389.9" width="7" height="4.6" fill="#26a69a" fill-opacity="0.9"/>
<rect x="422.8" y="390.9" width="7" height="3.6" fill="#b2dfdb" fill-opacity="0.9"/>
<rect x="431.2" y="390.9" width="7" height="3.6" fill="#b2dfdb" fill-opacity="0.9"/>
<rect x="439.6" y="390.9" width="7" height="3.6" fill="#26a69a" fill-opacity="0.9"/>
<rect x="448.0" y="389.9" width="7" height="4.6" fill="#26a69a" fill-opacity="0.9"/>
<rect x="456.4" y="389.9" width="7" height="4.6" fill="#26a69a" fill-opacity="0.9"/>
<rect x="464.8" y="390.4" width="7" height="4.1" fill="#b2dfdb" fill-opacity="0.9"/>
<rect x="473.2" y="388.9" width="7" height="5.6" fill="#26a69a" fill-opacity="0.9"/>
<rect x="481.7" y="389.9" width="7" height="4.6" fill="#b2dfdb" fill-opacity="0.9"/>
<rect x="490.1" y="389.9" width="7" height="4.6" fill="#26a69a" fill-opacity="0.9"/>
<rect x="498.5" y="390.4" width="7" height="4.1" fill="#b2dfdb" fill-opacity="0.9"/>
<rect x="506.9" y="388.9" width="7" height="5.6" fill="#26a69a" fill-opacity="0.9"/>
<rect x="515.3" y="389.9" width="7" height="4.6" fill="#b2dfdb" fill-opacity="0.9"/>
<rect x="523.7" y="391.9" width="7" height="2.6" fill="#b2dfdb" fill-opacity="0.9"/>
<rect x="532.1" y="391.9" width="7" height="2.6" fill="#b2dfdb" fill-opacity="0.9"/>
<rect x="540.5" y="392.9" width="7" height="1.6" fill="#b2dfdb" fill-opacity="0.9"/>
<rect x="548.9" y="392.2" width="7" height="2.3" fill="#26a69a" fill-opacity="0.9"/>
<rect x="557.4" y="392.2" width="7" height="2.3" fill="#b2dfdb" fill-opacity="0.9"/>
<rect x="565.8" y="391.1" width="7" height="3.4" fill="#26a69a" fill-opacity="0.9"/>
<rect x="574.2" y="389.1" width="7" height="5.4" fill="#26a69a" fill-opacity="0.9"/>
<rect x="582.6" y="388.1" width="7" height="6.4" fill="#26a69a" fill-opacity="0.9"/>
<rect x="591.0" y="389.1" width="7" height="5.4" fill="#b2dfdb" fill-opacity="0.9"/>
<rect x="599.4" y="389.7" width="7" height="4.8" fill="#b2dfdb" fill-opacity="0.9"/>
<rect x="607.8" y="392.1" width="7" height="2.4" fill="#b2dfdb" fill-opacity="0.9"/>
<rect x="616.2" y="392.9" width="7" height="1.6" fill="#b2dfdb" fill-opacity="0.9"/>
<rect x="624.6" y="394.5" width="7" height="1.0" fill="#ff5252" fill-opacity="0.9"/>
<rect x="633.0" y="394.5" width="7" height="1.3" fill="#ff5252" fill-opacity="0.9"/>
<rect x="641.5" y="394.5" width="7" height="1.3" fill="#ff5252" fill-opacity="0.9"/>
<rect x="649.9" y="394.5" width="7" height="2.1" fill="#ff5252" fill-opacity="0.9"/>
<rect x="658.3" y="394.5" width="7" height="3.3" fill="#ff5252" fill-opacity="0.9"/>
<rect x="666.7" y="394.5" width="7" height="5.8" fill="#ff5252" fill-opacity="0.9"/>
<rect x="675.1" y="394.5" width="7" height="7.8" fill="#ff5252" fill-opacity="0.9"/>
<rect x="683.5" y="394.5" width="7" height="3.3" fill="#ffcdd2" fill-opacity="0.9"/>
<rect x="691.9" y="394.5" width="7" height="2.8" fill="#ffcdd2" fill-opacity="0.9"/>
<rect x="700.3" y="394.5" width="7" height="2.5" fill="#ffcdd2" fill-opacity="0.9"/>
<rect x="708.7" y="392.1" width="7" height="2.4" fill="#26a69a" fill-opacity="0.9"/>
<rect x="717.1" y="389.1" width="7" height="5.4" fill="#26a69a" fill-opacity="0.9"/>
<rect x="725.5" y="388.1" width="7" height="6.4" fill="#26a69a" fill-opacity="0.9"/>
<rect x="734.0" y="387.1" width="7" height="7.4" fill="#26a69a" fill-opacity="0.9"/>
<rect x="742.4" y="387.9" width="7" height="6.6" fill="#b2dfdb" fill-opacity="0.9"/>
<rect x="750.8" y="388.1" width="7" height="6.4" fill="#b2dfdb" fill-opacity="0.9"/>
<rect x="759.2" y="392.1" width="7" height="2.4" fill="#b2dfdb" fill-opacity="0.9"/>
<rect x="767.6" y="392.1" width="7" height="2.4" fill="#b2dfdb" fill-opacity="0.9"/>
<rect x="776.0" y="392.9" width="7" height="1.6" fill="#b2dfdb" fill-opacity="0.9"/>
<rect x="784.4" y="392.9" width="7" height="1.6" fill="#b2dfdb" fill-opacity="0.9"/>
<rect x="792.8" y="394.0" width="7" height="1.0" fill="#b2dfdb" fill-opacity="0.9"/>
<rect x="801.2" y="394.5" width="7" height="1.3" fill="#ff5252" fill-opacity="0.9"/>
<rect x="809.6" y="394.5" width="7" height="2.1" fill="#ff5252" fill-opacity="0.9"/>
<rect x="818.1" y="394.5" width="7" height="2.2" fill="#ff5252" fill-opacity="0.9"/>
<rect x="826.5" y="394.5" width="7" height="2.2" fill="#ff5252" fill-opacity="0.9"/>
<rect x="834.9" y="394.5" width="7" height="5.3" fill="#ff5252" fill-opacity="0.9"/>
<rect x="843.3" y="394.5" width="7" height="2.6" fill="#ffcdd2" fill-opacity="0.9"/>
<rect x="851.7" y="394.5" width="7" height="5.3" fill="#ff5252" fill-opacity="0.9"/>
<rect x="860.1" y="394.5" width="7" height="7.0" fill="#ff5252" fill-opacity="0.9"/>
<rect x="868.5" y="394.5" width="7" height="8.4" fill="#ff5252" fill-opacity="0.9"/>
<rect x="876.9" y="394.5" width="7" height="9.3" fill="#ff5252" fill-opacity="0.9"/>
<rect x="885.3" y="394.5" width="7" height="12.4" fill="#ff5252" fill-opacity="0.9"/>
<rect x="893.8" y="394.5" width="7" height="15.3" fill="#ff5252" fill-opacity="0.9"/>
<rect x="902.2" y="394.5" width="7" height="14.2" fill="#ffcdd2" fill-opacity="0.9"/>
<rect x="910.6" y="394.5" width="7" height="10.2" fill="#ffcdd2" fill-opacity="0.9"/>
<rect x="919.0" y="394.5" width="7" height="7.0" fill="#ffcdd2" fill-opacity="0.9"/>
<line x1="0" y1="328.5" x2="1008" y2="328.5" stroke="#dcdfe6" stroke-width="1"/>
<line x1="0" y1="380.5" x2="1008" y2="380.5" stroke="#dcdfe6" stroke-width="1"/>
<line x1="0" y1="432.5" x2="1008" y2="432.5" stroke="#dcdfe6" stroke-width="1"/>
<rect x="945" y="0" width="63" height="455" fill="#fff"/>
<line x1="945" y1="328.5" x2="1008" y2="328.5" stroke="#dcdfe6" stroke-width="1"/>
<line x1="945" y1="380.5" x2="1008" y2="380.5" stroke="#dcdfe6" stroke-width="1"/>
<line x1="945" y1="432.5" x2="1008" y2="432.5" stroke="#dcdfe6" stroke-width="1"/>
<line x1="945.5" y1="0" x2="945.5" y2="455" stroke="#dcdfe6" stroke-width="1"/>
<text x="956" y="28.0" font-size="12" textLength="41" lengthAdjust="spacingAndGlyphs" fill="#2a2e39">1.17000</text>
<text x="956" y="58.7" font-size="12" textLength="41" lengthAdjust="spacingAndGlyphs" fill="#2a2e39">1.16000</text>
<text x="956" y="89.5" font-size="12" textLength="41" lengthAdjust="spacingAndGlyphs" fill="#2a2e39">1.15000</text>
<text x="956" y="120.2" font-size="12" textLength="41" lengthAdjust="spacingAndGlyphs" fill="#2a2e39">1.14000</text>
<text x="956" y="150.9" font-size="12" textLength="41" lengthAdjust="spacingAndGlyphs" fill="#2a2e39">1.13000</text>
<text x="956" y="212.4" font-size="12" textLength="41" lengthAdjust="spacingAndGlyphs" fill="#2a2e39">1.11000</text>
<text x="956" y="243.1" font-size="12" textLength="41" lengthAdjust="spacingAndGlyphs" fill="#2a2e39">1.10000</text>
<text x="956" y="273.8" font-size="12" textLength="41" lengthAdjust="spacingAndGlyphs" fill="#2a2e39">1.09000</text>
<rect x="945" y="174" width="59" height="16.5" rx="1.5" fill="#210d55"/>
<text x="955" y="186.5" font-size="12" font-weight="bold" fill="#ffffff">1.11860</text>
<rect x="945" y="291" width="59" height="16.5" rx="1.5" fill="#210d55"/>
<text x="955" y="303.5" font-size="12" font-weight="bold" fill="#ffffff">1.08059</text>
<text x="956" y="365.3" font-size="12" fill="#2a2e39">40.00</text>
<text x="956" y="397.8" font-size="12" textLength="41" lengthAdjust="spacingAndGlyphs" fill="#2a2e39">0.00000</text>
<text x="954" y="429.8" font-size="12" fill="#2a2e39">−0.01000</text>
<text x="56.25" y="450" font-size="12" fill="#2a2e39" text-anchor="middle">18</text>
<text x="140.50" y="450" font-size="12" fill="#2a2e39" text-anchor="middle">Nov</text>
<text x="224.50" y="450" font-size="12" fill="#2a2e39" text-anchor="middle">15</text>
<text x="325.25" y="450" font-size="12" fill="#2a2e39" text-anchor="middle">Dec</text>
<text x="434.25" y="450" font-size="12" fill="#2a2e39" text-anchor="middle">20</text>
<text x="518.50" y="450" font-size="12" fill="#2a2e39" text-anchor="middle">2022</text>
<text x="602.25" y="450" font-size="12" fill="#2a2e39" text-anchor="middle">17</text>
<text x="695.50" y="450" font-size="12" fill="#2a2e39" text-anchor="middle">Feb</text>
<text x="779.75" y="450" font-size="12" fill="#2a2e39" text-anchor="middle">15</text>
<text x="863.50" y="450" font-size="12" fill="#2a2e39" text-anchor="middle">Mar</text>
<g stroke="#131722" stroke-width="1.2" fill="none"><circle cx="980.5" cy="446.5" r="5"/><line x1="985.50" y1="446.50" x2="987.80" y2="446.50"/><line x1="984.04" y1="450.04" x2="985.66" y2="451.66"/><line x1="980.50" y1="451.50" x2="980.50" y2="453.80"/><line x1="976.96" y1="450.04" x2="975.34" y2="451.66"/><line x1="975.50" y1="446.50" x2="973.20" y2="446.50"/><line x1="976.96" y1="442.96" x2="975.34" y2="441.34"/><line x1="980.50" y1="441.50" x2="980.50" y2="439.20"/><line x1="984.04" y1="442.96" x2="985.66" y2="441.34"/></g>
</svg></body></html>
